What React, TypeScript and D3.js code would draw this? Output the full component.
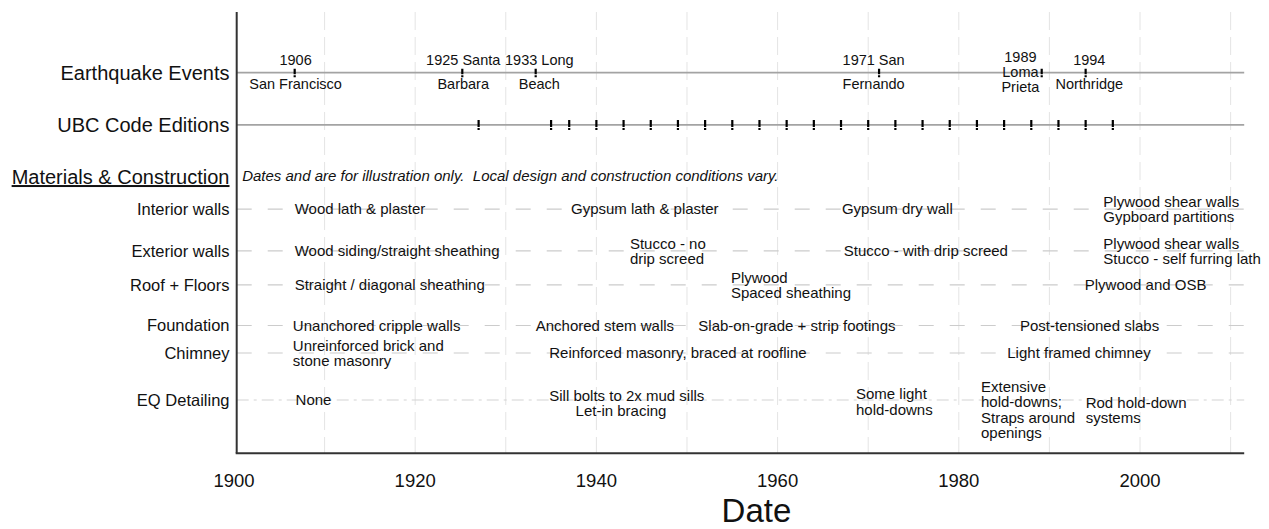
import React from 'react';
import * as d3 from 'd3';

const W = 1269;
const H = 529;

// ---- data ----
const axisYears = [1900, 1920, 1940, 1960, 1980, 2000];
const gridYears = [1910, 1920, 1930, 1940, 1950, 1960, 1970, 1980, 1990, 2000, 2010];
const ubcEditions = [1927, 1935, 1937, 1940, 1943, 1946, 1949, 1952, 1955, 1958, 1961, 1964, 1967, 1970, 1973, 1976, 1979, 1982, 1985, 1988, 1991, 1994, 1997];

const quakeYears = [1906.7, 1925.2, 1933.3, 1971.2, 1989.15, 1994.0];
const quakeLabelYears = [1906.8, 1925.3, 1933.7, 1970.6, 1986.8, 1994.4];
const quakeLabels = [
  ['1906', 'San Francisco'],
  ['1925 Santa', 'Barbara'],
  ['1933 Long', 'Beach'],
  ['1971 San', 'Fernando'],
  ['1989', 'Loma', 'Prieta'],
  ['1994', 'Northridge'],
];

const headerLabels = ['Earthquake Events', 'UBC Code Editions', 'Materials & Construction'];
const headerLevels = [86.25, 74.4, 62.6];

const rowLabels = ['Interior walls', 'Exterior walls', 'Roof + Floors', 'Foundation', 'Chimney', 'EQ Detailing'];
const rowLevels = [55.35, 45.85, 38.15, 28.96, 22.73, 12.08];

const note = 'Dates and are for illustration only.  Local design and construction conditions vary.';

type Item = { row: number; start: number; lines: string[]; level?: number };
const items: Item[] = [
  { row: 0, start: 1906.7, lines: ['Wood lath & plaster'] },
  { row: 0, start: 1937.2, lines: ['Gypsum lath & plaster'] },
  { row: 0, start: 1967.1, lines: ['Gypsum dry wall'] },
  { row: 0, start: 1995.95, lines: ['Plywood shear walls', 'Gypboard partitions'] },
  { row: 1, start: 1906.7, lines: ['Wood siding/straight sheathing'] },
  { row: 1, start: 1943.7, lines: ['Stucco - no', 'drip screed'] },
  { row: 1, start: 1967.3, lines: ['Stucco - with drip screed'] },
  { row: 1, start: 1995.95, lines: ['Plywood shear walls', 'Stucco - self furring lath'] },
  { row: 2, start: 1906.7, lines: ['Straight / diagonal sheathing'] },
  { row: 2, start: 1954.85, lines: ['Plywood', 'Spaced sheathing'] },
  { row: 2, start: 1993.9, lines: ['Plywood and OSB'] },
  { row: 3, start: 1906.5, lines: ['Unanchored cripple walls'] },
  { row: 3, start: 1933.3, lines: ['Anchored stem walls'] },
  { row: 3, start: 1951.25, lines: ['Slab-on-grade + strip footings'] },
  { row: 3, start: 1986.75, lines: ['Post-tensioned slabs'] },
  { row: 4, start: 1906.5, lines: ['Unreinforced brick and', 'stone masonry'] },
  { row: 4, start: 1934.8, lines: ['Reinforced masonry, braced at roofline'] },
  { row: 4, start: 1985.35, lines: ['Light framed chimney'] },
  { row: 5, start: 1906.8, lines: ['None'] },
  { row: 5, start: 1934.8, lines: ['Sill bolts to 2x mud sills', ''], level: 11.4 },
  { row: 5, start: 1937.7, lines: ['', 'Let-in bracing'], level: 11.4 },
  { row: 5, start: 1968.65, lines: ['Some light', 'hold-downs'], level: 11.69 },
  { row: 5, start: 1982.45, lines: ['Extensive', 'hold-downs;', 'Straps around', 'openings'], level: 9.88 },
  { row: 5, start: 1994.0, lines: ['Rod hold-down', 'systems'], level: 9.81 },
];

const FONT = '"Liberation Sans", Arial, Helvetica, sans-serif';

export default function App() {
  const x = d3.scaleLinear().domain([1900.3, 2011.5]).range([236.7, 1244.2]);
  const y = d3.scaleLinear().domain([0, 100]).range([453.3, 12]);
  const [x0, x1] = x.range();
  const [yb, yt] = y.range();
  const labelRight = 229.5;
  const itemFs = 15;
  const lh = 15.5;

  return (
    <svg
      width={W}
      height={H}
      viewBox={`0 0 ${W} ${H}`}
      style={{ position: 'absolute', left: 0, top: 0, background: '#fff', fontFamily: FONT }}
    >
      <rect x={0} y={0} width={W} height={H} fill="#fff" />

      {/* vertical grid */}
      {gridYears.map((g) => (
        <line key={'g' + g} x1={x(g)} x2={x(g)} y1={yt} y2={yb} stroke="#e4e4e4" strokeWidth={1} strokeDasharray="18 7" />
      ))}

      {/* material row dashed lines */}
      {rowLevels.map((lv, i) => (
        <line
          key={'rl' + i}
          x1={x0}
          x2={x1}
          y1={y(lv)}
          y2={y(lv)}
          stroke={i === 5 ? '#d4d4d4' : '#cccccc'}
          strokeWidth={1.2}
          strokeDasharray={i === 5 ? '12 5 3 5' : '15 16'}
        />
      ))}

      {/* earthquake and UBC lines */}
      {[headerLevels[0], headerLevels[1]].map((lv, i) => (
        <line key={'hl' + i} x1={x0} x2={x1} y1={y(lv)} y2={y(lv)} stroke="#a3a3a3" strokeWidth={1.8} />
      ))}

      {/* UBC ticks */}
      {ubcEditions.map((yr) => (
        <line
          key={'u' + yr}
          x1={x(yr)}
          x2={x(yr)}
          y1={y(headerLevels[1]) - 5}
          y2={y(headerLevels[1]) + 5}
          stroke="#000"
          strokeWidth={2.2}
          strokeDasharray="7 1 2"
        />
      ))}

      {/* earthquake ticks + labels */}
      {quakeYears.map((yr, i) => {
        const cy = y(headerLevels[0]);
        const lines = quakeLabels[i];
        const offs = lines.length === 2 ? [-12.7, 11.3] : [-15.7, -0.7, 14.3];
        const lx = x(quakeLabelYears[i]);
        return (
          <g key={'q' + i}>
            <line x1={x(yr)} x2={x(yr)} y1={cy - 4} y2={cy + 4.5} stroke="#000" strokeWidth={2.2} strokeDasharray="5.5 1 2" />
            {lines.map((t, j) => (
              <text key={j} x={lx} y={cy + offs[j] + 5.2} fontSize={14.5} textAnchor="middle" fill="#111">
                {t}
              </text>
            ))}
          </g>
        );
      })}

      {/* header labels */}
      {headerLabels.map((t, i) => (
        <text
          key={'h' + i}
          x={labelRight}
          y={y(headerLevels[i]) + 7}
          fontSize={20}
          textAnchor="end"
          fill="#111"
          textDecoration={i === 2 ? 'underline' : undefined}
        >
          {t}
        </text>
      ))}

      {/* note */}
      <text x={x(1900.9)} y={y(headerLevels[2]) + 3.8} fontSize={15} fontStyle="italic" fill="#111" style={{ whiteSpace: 'pre' }}>
        {note}
      </text>

      {/* row labels */}
      {rowLabels.map((t, i) => (
        <text key={'r' + i} x={labelRight} y={y(rowLevels[i]) + 5.9} fontSize={16.5} textAnchor="end" fill="#111">
          {t}
        </text>
      ))}

      {/* items */}
      {items.map((it, k) => {
        const cy = y(it.level ?? rowLevels[it.row]);
        const n = it.lines.length;
        return (
          <g key={'it' + k}>
            {it.lines.map((t, j) =>
              t ? (
                <text key={j} x={x(it.start)} y={cy + (j - (n - 1) / 2) * lh + 5.4} fontSize={itemFs} fill="#111">
                  {t}
                </text>
              ) : null
            )}
          </g>
        );
      })}

      {/* axes */}
      <line x1={x0} x2={x0} y1={yt} y2={yb} stroke="#333" strokeWidth={2} />
      <line x1={x0 - 1} x2={x1} y1={yb} y2={yb} stroke="#333" strokeWidth={2} />

      {axisYears.map((yr) => (
        <text key={'ax' + yr} x={x(yr)} y={486.7} fontSize={18.5} textAnchor="middle" fill="#111">
          {yr}
        </text>
      ))}

      <text x={(x0 + x1) / 2 + 16} y={522} fontSize={33} textAnchor="middle" fill="#111">
        Date
      </text>
    </svg>
  );
}
